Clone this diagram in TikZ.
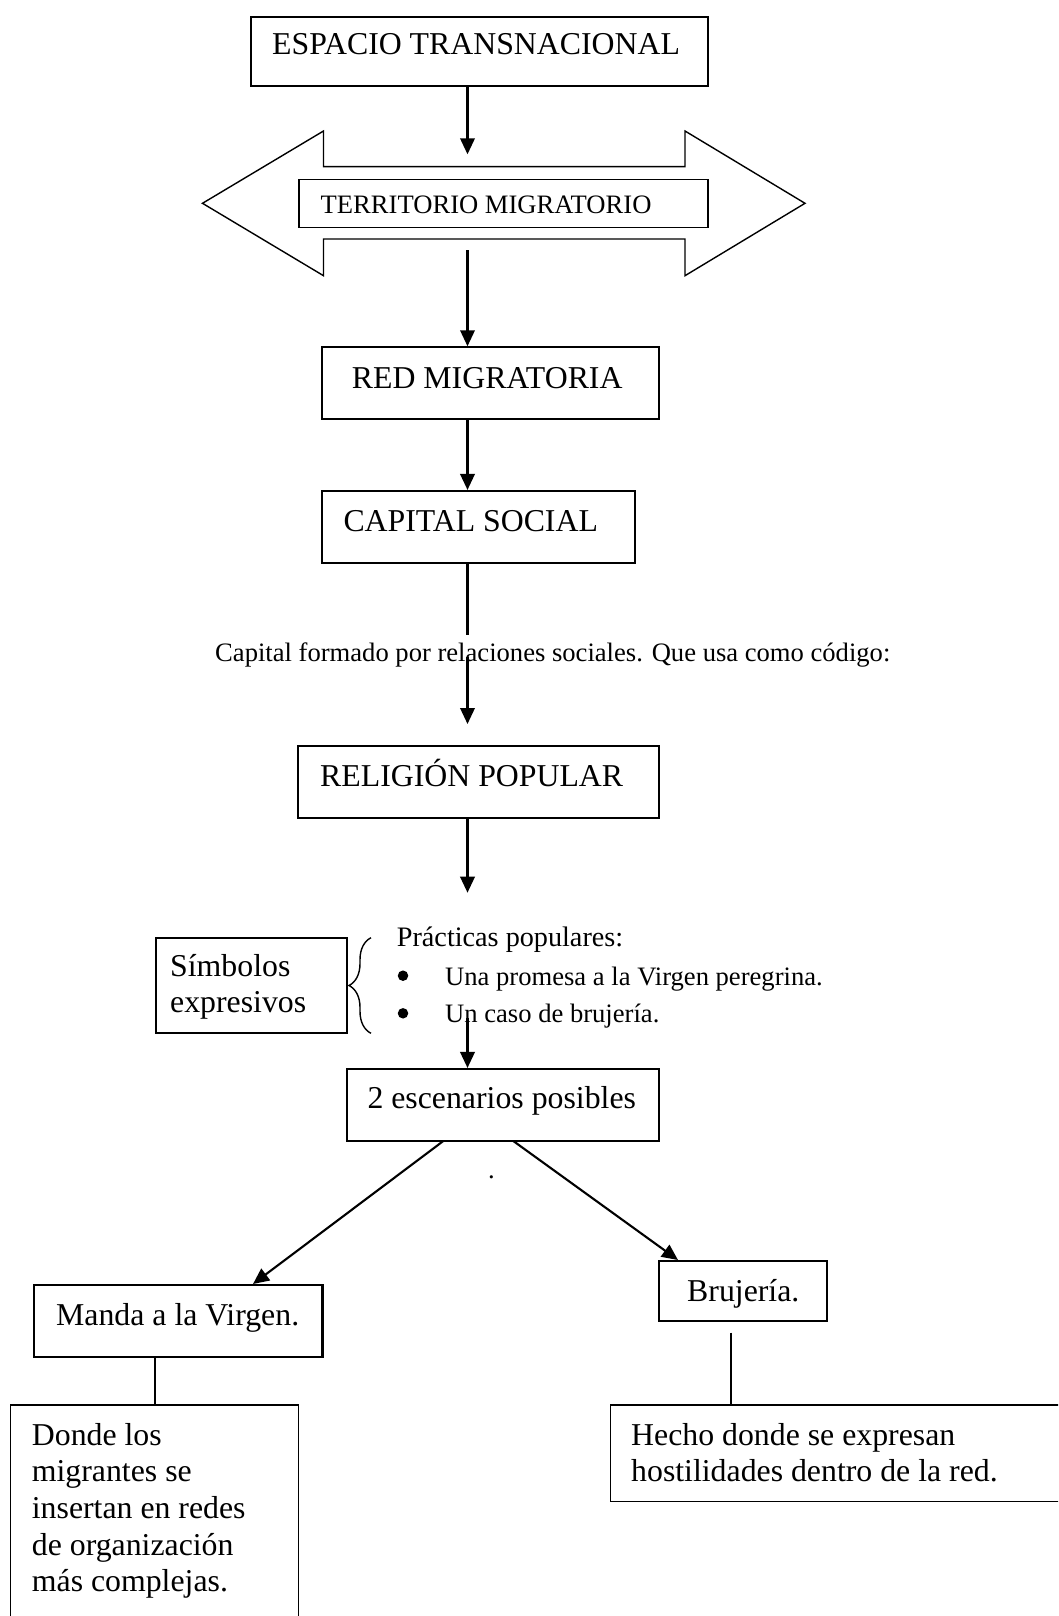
\documentclass[tikz,border=0pt]{standalone}
\usepackage{fontspec}
\setmainfont{Liberation Serif}
\usetikzlibrary{arrows.meta,fit,decorations.pathreplacing}
\begin{document}
\begin{tikzpicture}[x=1pt,y=-1pt,
  box/.style={draw, line width=2.1pt, inner sep=0pt},
  thinbox/.style={draw, line width=1.4pt, inner sep=0pt},
  big/.style={font=\fontsize{31.8}{36.7}\selectfont, inner sep=0pt, anchor=base west},
  small/.style={font=\fontsize{26.6}{30.6}\selectfont, inner sep=0pt, anchor=base west},
  mid/.style={font=\fontsize{28.2}{32.4}\selectfont, inner sep=0pt, anchor=base west},
  arr/.style={line width=2.1pt, -{Triangle[length=16pt,width=14.5pt]}},
  conn/.style={line width=2.1pt},
  thinconn/.style={line width=1.4pt},
  dotb/.style={circle, fill, inner sep=0pt, minimum size=10.5pt}]
\useasboundingbox (0,0) rectangle (1058,1616);
\clip (0,0) rectangle (1058,1616);

% boxes
\node[box, fit={(251,17) (708,86)}] (esp) {};
\draw[line width=1.4pt, line join=miter] (202.5,203.3) -- (323.5,131) -- (323.5,166.7) -- (685,166.7) -- (685,131) -- (805,203.3) -- (685,275.7) -- (685,239) -- (323.5,239) -- (323.5,275.7) -- cycle;
\node[thinbox, fit={(299,179.3) (708,227.7)}] (terr) {};
\node[box, fit={(322.3,347.3) (659,419)}] (red) {};
\node[box, fit={(322.3,491) (635,563.3)}] (cap) {};
\node[box, fit={(298.3,746) (659,817.7)}] (rel) {};
\node[box, fit={(156,937.7) (347,1033.3)}] (sim) {};
\node[box, fit={(346.7,1069) (659,1141)}] (esc) {};
\node[box, fit={(33.7,1285.3) (322.5,1356.7)}] (manda) {};
\node[box, fit={(658.6,1261) (826.6,1320.7)}] (bruj) {};
\node[thinbox, fit={(10.5,1405) (298.5,1700)}] (donde) {};
\node[thinbox, fit={(610.7,1405) (1100,1501.7)}] (hecho) {};

% texts
\node[big] (espT) at (272,55) {ESPACIO TRANSNACIONAL};
\node[small] (terrT) at (320.5,213.3) {TERRITORIO MIGRATORIO};
\node[big] (redT) at (351.7,388.3) {RED MIGRATORIA};
\node[big] (capT) at (343.3,531.7) {CAPITAL SOCIAL};
\node[small] (capdef) at (215,661) {Capital formado por relaciones sociales. Que usa como código:};
\node[big] (relT) at (320,786.7) {RELIGIÓN POPULAR};
\node[mid] (pract) at (396.7,946) {Prácticas populares:};
\node[dotb] (b1) at (403,975.7) {};
\node[dotb] (b2) at (403,1013.3) {};
\node[small] (it1) at (445,985) {Una promesa a la Virgen peregrina.};
\node[small] (it2) at (445,1022.7) {Un caso de brujería.};
\node[big] (simT) at (170,976) {\parbox[t]{200pt}{\raggedright Símbolos\\expresivos}};
\node[big] (escT) at (367.3,1108.3) {2 escenarios posibles};
\node[small] (stray) at (488,1178) {.};
\node[big] (mandaT) at (56,1325.7) {Manda a la Virgen.};
\node[big] (brujT) at (687,1301.7) {Brujería.};
\node[big] (dondeT) at (31.7,1445) {\parbox[t]{260pt}{\raggedright Donde los\\migrantes se\\insertan en redes\\de organización\\más complejas.}};
\node[big] (hechoT) at (631,1445) {\parbox[t]{420pt}{\raggedright Hecho donde se expresan\\hostilidades dentro de la red.}};

% brace
\draw[line width=1.4pt, decorate, decoration={brace, amplitude=22pt}] (371,1033.3) -- (371,937.7);

% coordinates for free ends
\coordinate (a1end) at (467.5,154.3);
\coordinate (a2start) at (467.5,250);
\coordinate (c1end) at (467.5,635);
\coordinate (c2start) at (467.5,656.7);
\coordinate (c2end) at (467.5,724);
\coordinate (r1end) at (467.5,892.7);
\coordinate (p1start) at (467.5,1018.3);
\coordinate (dl) at (443.3,1141);
\coordinate (dr) at (513.3,1141);
\coordinate (mandaTip) at (253,1284);
\coordinate (brujTip) at (678,1260);
\coordinate (bl) at (730.8,1332.7);
\coordinate (mb) at (155,1356.7);

% connectors
\draw[arr] (esp.south -| a1end) -- (a1end);
\draw[arr] (a2start) -- (a2start |- red.north);
\draw[arr] (red.south -| a1end) -- (a1end |- cap.north);
\draw[conn] (cap.south -| a1end) -- (c1end);
\draw[arr] (c2start) -- (c2end);
\draw[arr] (rel.south -| a1end) -- (r1end);
\draw[arr] (p1start) -- (p1start |- esc.north);
\draw[arr] (dl) -- (mandaTip);
\draw[arr] (dr) -- (brujTip);
\draw[thinconn] (mb) -- (mb |- donde.north);
\draw[thinconn] (bl) -- (bl |- hecho.north);
\end{tikzpicture}
\end{document}
